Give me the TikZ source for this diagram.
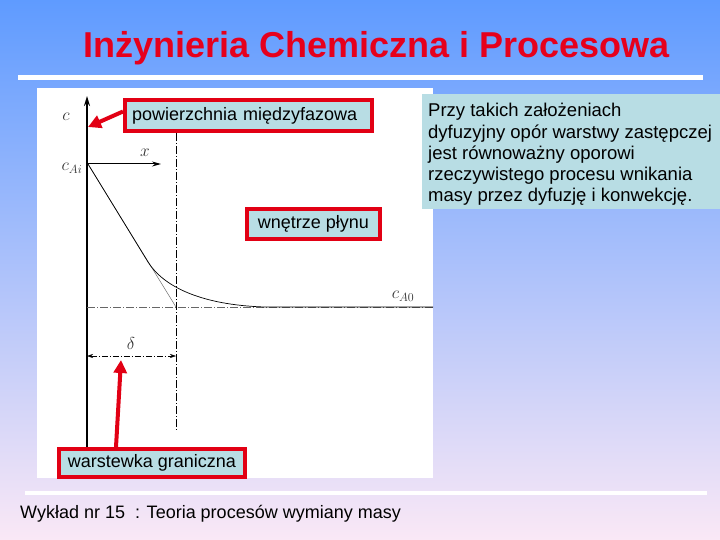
\documentclass[tikz,border=0pt]{standalone}
\usepackage{fontspec}
\setmainfont{Liberation Sans}
\usetikzlibrary{arrows.meta}
\definecolor{bgtop}{RGB}{95,155,255}
\definecolor{bgmid}{RGB}{172,196,248}
\definecolor{bgbot}{RGB}{250,232,246}
\definecolor{boxfill}{RGB}{184,221,228}
\definecolor{labred}{RGB}{226,0,20}
\definecolor{titlered}{RGB}{230,0,28}
\tikzset{
  labbox/.style={draw=labred, line width=4pt, fill=boxfill, inner sep=0pt,
    font=\fontsize{18}{21}\selectfont, text=black},
  redarrow/.style={draw=labred, line width=4pt, -{Triangle[length=13pt,width=13pt]}},
  scanline/.style={black, line width=0.7pt},
  scanlabel/.style={font=\fontsize{17}{19}\selectfont, text=black!80, inner sep=0pt},
}
\begin{document}
\begin{tikzpicture}[x=1pt,y=-1pt]
\useasboundingbox (0,0) rectangle (720,540);
\shade[top color=bgtop, middle color=bgmid, bottom color=bgbot] (0,0) rectangle (720,540);
% title
\node[anchor=base, font=\bfseries\fontsize{36}{43}\selectfont, text=titlered, inner sep=0pt] (title) at (376.5,58) {Inżynieria Chemiczna i Procesowa};
\draw[white, line width=5pt] (18,77.5) -- (703,77.5);
% footer
\draw[white, line width=4pt] (25,493) -- (707,493);
\node[anchor=base west, font=\fontsize{18}{21}\selectfont, inner sep=0pt] (footer) at (20,518) {Wykład nr 15~ : Teoria procesów wymiany masy};
% white panel
\fill[white] (37,88) rectangle (433,478);
% scanned diagram
\coordinate (cai) at (88,164);
\coordinate (axbot) at (87,447);
\coordinate (axtop) at (87,96);
\coordinate (xend) at (161,164);
\coordinate (dtop) at (176,133);
\coordinate (dbot) at (176,430);
\coordinate (hl) at (87,307);
\coordinate (hr) at (433,307);
\coordinate (tanend) at (176,307);
\coordinate (cmid) at (148,262);
\coordinate (cend) at (265,307);
\coordinate (dl) at (87,356);
\coordinate (dr) at (176,356);
\draw[black, line width=1.8pt, -{Stealth[length=10pt,width=6pt]}] (axbot) -- (axtop);
\draw[black, line width=1pt, -{Stealth[length=9pt,width=5pt]}] (cai) -- (xend);
\draw[scanline, line width=0.6pt, dash pattern=on 8pt off 2pt on 1pt off 2pt] (dtop) -- (dbot);
\draw[scanline, line width=0.5pt, black!60, dash pattern=on 8pt off 2pt on 1pt off 2pt] (hl) -- (hr);
\draw[black!55, line width=0.5pt] (cai) -- (tanend);
\draw[scanline] (cai) -- (cmid) .. controls (163,286) and (200,305) .. (cend) -- (hr);
\draw[black, line width=0.5pt, dash pattern=on 6pt off 2pt on 1pt off 2pt, {Stealth[length=6pt,width=4pt]}-{Stealth[length=6pt,width=4pt]}] (dl) -- (dr);
\node[scanlabel] (lc) at (66,117) {$c$};
\node[scanlabel] (lcai) at (72,168) {$c_{Ai}$};
\node[scanlabel] (lx) at (145,153) {$x$};
\node[scanlabel] (lca0) at (403,296) {$c_{A0}$};
\node[scanlabel] (ld) at (131,343) {$\delta$};
% right text box
\fill[boxfill] (422,94) rectangle (720,209);
\node[anchor=base west, align=left, inner sep=0pt, font=\fontsize{18.5}{21.3}\selectfont] (info) at (428,202)
  {Przy takich założeniach\\dyfuzyjny opór warstwy zastępczej\\jest równoważny oporowi\\rzeczywistego procesu wnikania\\masy przez dyfuzję i konwekcję.};
% labelled boxes
\node[labbox, anchor=west, minimum height=31pt, text width=233pt, inner xsep=7pt, align=left] (pow) at (123,115.5) {powierzchnia międzyfazowa};
\node[labbox, minimum width=133pt, minimum height=30pt] (wne) at (313.5,224) {wnętrze płynu};
\node[labbox, minimum width=186pt, minimum height=28pt] (war) at (152,463) {warstewka graniczna};
% red arrows
\coordinate (tip1) at (88,127);
\coordinate (tip2) at (121,360);
\draw[redarrow] ([yshift=4pt]pow.west) -- (tip1);
\draw[redarrow] ([xshift=-36pt]war.north) -- (tip2);
\end{tikzpicture}
\end{document}
